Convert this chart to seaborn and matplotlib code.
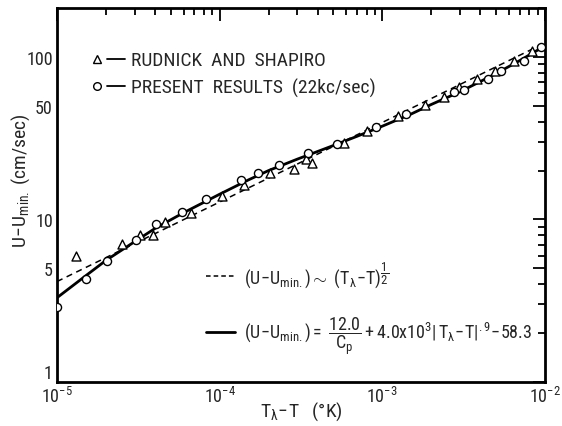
import matplotlib
matplotlib.use("Agg")
import matplotlib.pyplot as plt
import seaborn as sns
import pandas as pd
import numpy as np
from matplotlib.lines import Line2D
from matplotlib.legend_handler import HandlerTuple
from matplotlib import font_manager as fm
from matplotlib.ticker import FixedLocator, FixedFormatter, NullFormatter

# ---------------- data ----------------
present_x = [1.0e-5, 1.5e-5, 2.03e-5, 3.05e-5, 4.05e-5, 5.9e-5, 8.2e-5, 1.36e-4, 1.73e-4,
             2.3e-4, 3.5e-4, 5.3e-4, 9.2e-4, 1.4e-3, 2.77e-3, 3.18e-3, 4.47e-3, 5.4e-3,
             7.4e-3, 9.4e-3]
present_y = [2.9, 4.3, 5.55, 7.5, 9.4, 11.1, 13.4, 17.5, 19.3,
             21.6, 25.5, 29.2, 37.1, 44.6, 60.9, 62.7, 73.2, 82.0,
             94.5, 115.0]

rudnick_x = [1.31e-5, 2.5e-5, 3.25e-5, 3.9e-5, 4.6e-5, 6.7e-5, 1.03e-4, 1.42e-4, 2.03e-4,
             2.85e-4, 3.4e-4, 3.7e-4, 5.8e-4, 8.1e-4, 1.24e-3, 1.84e-3, 2.4e-3, 2.97e-3,
             3.83e-3, 4.9e-3, 6.45e-3, 8.3e-3]
rudnick_y = [6.0, 7.1, 8.0, 8.0, 9.6, 10.9, 13.9, 16.3, 19.3,
             20.5, 23.6, 22.3, 29.6, 35.1, 43.4, 50.7, 56.7, 65.4,
             73.2, 82.0, 94.5, 109.0]

# theoretical (U-Umin) ~ (T_lambda - T)^(1/2) line, endpoints
half_x = [1e-5, 1e-2]
half_y = [4.15, 122.0]

# fitted curve
fit_x = [1e-5, 1.5e-5, 2e-5, 3e-5, 4e-5, 6e-5, 1e-4, 1.5e-4, 2e-4, 3e-4, 5e-4, 7e-4,
         1e-3, 1.5e-3, 2e-3, 3e-3, 5e-3, 7e-3, 1e-2]
fit_y = [3.3, 4.5, 5.6, 7.3, 8.8, 11.0, 14.3, 17.5, 20.0, 23.5, 28.5, 32.5,
         37.5, 44.5, 51.0, 61.0, 79.0, 95.0, 117.0]

x_major = [1e-5, 1e-4, 1e-3, 1e-2]
x_labels = [r'$10^{-5}$', r'$10^{-4}$', r'$10^{-3}$', r'$10^{-2}$']
y_major = [1, 5, 10, 50, 100]
y_labels = ['1', '5', '10', '50', '100']

legend_labels = ['RUDNICK  AND  SHAPIRO', 'PRESENT  RESULTS  (22kc/sec)']
eq_labels = [r'$(\mathrm{U\!-\!U_{min.}})\sim\ (\mathrm{T_{\lambda}\!-\!T})^{\dfrac{1}{2}}$',
             r'$(\mathrm{U\!-\!U_{min.}})=\ \dfrac{12.0}{\mathrm{C_p}}+4.0\mathrm{x}10^{3}|\,\mathrm{T_{\lambda}\!-\!T}|^{.9}\!-\!58.3$']

# ---------------- style ----------------
sns.set_theme(style="white")
names = {f.name for f in fm.fontManager.ttflist}
fam = None
for cand in ["Liberation Sans Narrow", "DejaVu Sans Condensed", "Roboto Condensed", "Liberation Sans"]:
    if cand in names:
        fam = cand
        break
plt.rcParams['font.family'] = [fam, 'DejaVu Sans']
plt.rcParams['mathtext.fontset'] = 'custom'
plt.rcParams['mathtext.rm'] = fam
plt.rcParams['mathtext.it'] = fam
plt.rcParams['mathtext.sf'] = fam
plt.rcParams['mathtext.bf'] = fam

fig = plt.figure(figsize=(5.62, 4.27), dpi=100)
ax = fig.add_axes([57/562, 44/427, 488/562, 374/427])

df_p = pd.DataFrame({'x': present_x, 'y': present_y})
df_r = pd.DataFrame({'x': rudnick_x, 'y': rudnick_y})
df_h = pd.DataFrame({'x': half_x, 'y': half_y})
df_f = pd.DataFrame({'x': fit_x, 'y': fit_y})

sns.lineplot(data=df_h, x='x', y='y', ax=ax, color='black', lw=1.1,
             linestyle=(0, (4, 3)), zorder=2)
sns.lineplot(data=df_f, x='x', y='y', ax=ax, color='black', lw=2.0, zorder=2)
sns.scatterplot(data=df_r, x='x', y='y', ax=ax, marker='^', s=42,
                facecolor='white', edgecolor='black', linewidth=1.0, zorder=3)
sns.scatterplot(data=df_p, x='x', y='y', ax=ax, marker='o', s=34,
                facecolor='white', edgecolor='black', linewidth=1.0, zorder=4)

ax.set_xscale('log')
ax.set_yscale('log')
ax.set_xlim(1e-5, 1e-2)
ax.set_ylim(1, 200)

ax.xaxis.set_major_locator(FixedLocator(x_major))
ax.xaxis.set_major_formatter(FixedFormatter(x_labels))
xminor = [m * d for d in [1e-5, 1e-4, 1e-3] for m in range(2, 10)]
ax.xaxis.set_minor_locator(FixedLocator(xminor))
ax.xaxis.set_minor_formatter(NullFormatter())

ax.yaxis.set_major_locator(FixedLocator(y_major))
ax.yaxis.set_major_formatter(FixedFormatter(y_labels))
yminor = [m * d for d in [1, 10, 100] for m in range(2, 10) if m * d not in y_major and m * d <= 200]
ax.yaxis.set_minor_locator(FixedLocator(yminor))
ax.yaxis.set_minor_formatter(NullFormatter())

ax.tick_params(which='both', direction='in', top=True, right=True, color='black',
               labelsize=13, width=1.3)
ax.tick_params(which='major', length=9)
ax.tick_params(which='minor', length=5)
ax.tick_params(axis='y', which='major', pad=3)
ax.tick_params(axis='x', which='major', pad=3)
for s in ax.spines.values():
    s.set_color('black')
    s.set_linewidth(2.0)

# lift the bottom "1" label slightly so it does not collide with 10^-5
ax.yaxis.get_major_ticks()[0].label1.set_verticalalignment('bottom')

ax.set_xlabel(r'$\mathrm{T_{\lambda}\!-\!T}$   (°K)', fontsize=14)
ax.set_ylabel(r'$\mathrm{U\!-\!U_{min.}}$ (cm/sec)', fontsize=14)
ax.xaxis.set_label_coords(0.50, -0.048)
ax.yaxis.set_label_coords(-0.052, 0.54)

# legend for data sets
h1 = (Line2D([], [], marker='^', ls='none', mfc='white', mec='black', ms=6, mew=1.0),
      Line2D([], [], color='black', lw=1.3))
h2 = (Line2D([], [], marker='o', ls='none', mfc='white', mec='black', ms=5.5, mew=1.0),
      Line2D([], [], color='black', lw=1.3))
leg1 = ax.legend([h1, h2], legend_labels, handler_map={tuple: HandlerTuple(ndivide=None, pad=0)},
                 loc='upper left', bbox_to_anchor=(0.048, 0.905), frameon=False,
                 fontsize=14, handlelength=1.9, handletextpad=0.3, labelspacing=0.45,
                 borderaxespad=0)
ax.add_artist(leg1)

# legend for curves
h3 = Line2D([], [], color='black', lw=1.1, linestyle=(0, (3, 2)))
h4 = Line2D([], [], color='black', lw=2.0)
leg2 = ax.legend([h3, h4], eq_labels, loc='upper left', bbox_to_anchor=(0.29, 0.348),
                 frameon=False, fontsize=13, handlelength=1.6, handletextpad=0.5,
                 labelspacing=1.4, borderaxespad=0)

fig.savefig('out.png', dpi=100)
